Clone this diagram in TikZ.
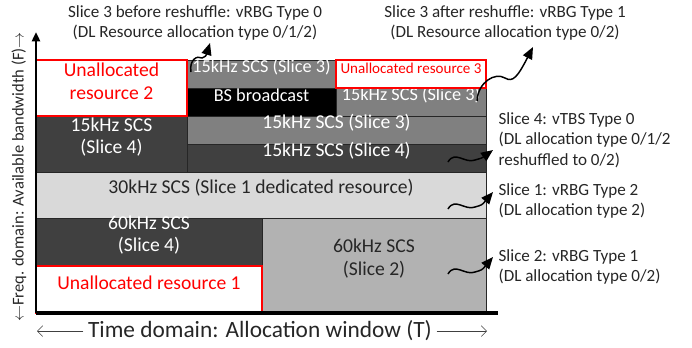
\documentclass[tikz,border=0pt]{standalone}
\usepackage{fontspec}
\setmainfont{Carlito}
\usetikzlibrary{arrows.meta,fit}

\begin{document}
\begin{tikzpicture}[%
  x=0.75pt, y=-0.75pt, % one unit per pixel, y pointing down
  every node/.style={align=center, font=\fontsize{14.7}{17}\selectfont},
  cell/.style={draw=black!85, thin, inner sep=0pt}, % Resource block
  slicefour/.style={cell, fill=black!75, text=white},
  slicethree/.style={cell, fill=black!50, text=white},
  sliceone/.style={cell, fill=black!15, text=black!85},
  slicetwo/.style={cell, fill=black!30, text=black!85},
  bcast/.style={cell, fill=black, text=white},
  unalloc/.style={cell, draw=red, line width=1.2pt, fill=white, text=red},
  toprow/.style={font=\fontsize{13.7}{16}\selectfont}, % Narrow blocks at the top
  note/.style={text=black!85, inner sep=1pt, font=\fontsize{12.8}{15.3}\selectfont},
  wave/.style={line width=1.1pt, -{Triangle[length=9pt, width=7.5pt]}} % Curly pointer
]
\useasboundingbox (0,0) rectangle (692,347);

% Allocated blocks
\node[slicethree, toprow, fit={(187,60) (336,88)}] (s3old) {15kHz SCS (Slice 3)};
\node[bcast, toprow, fit={(187,88) (336,116)}] (bs) {BS broadcast};
\node[slicethree, toprow, fit={(336,88) (486,116)}] (s3new) {15kHz SCS (Slice 3)};
\node[slicefour, fit={(36,116) (187,172)}] (s4a) {15kHz SCS\\(Slice 4)};
\node[slicethree, fit={(187,116) (486,144)}] (s3b) {15kHz SCS (Slice 3)};
\node[slicefour, fit={(187,144) (486,172)}] (s4b) {15kHz SCS (Slice 4)};
\node[sliceone, fit={(36,172) (486,218)}] (s1) {30kHz SCS (Slice 1 dedicated resource)};
\node[slicefour, fit={(36,218) (262,266)}] (s4c) {60kHz SCS\\(Slice 4)};
\node[slicetwo, fit={(262,218) (486,313)}] (s2) {60kHz SCS\\(Slice 2)};

% Unallocated blocks on top
\node[unalloc, fit={(36,60) (187,116)}] (free2) {Unallocated\\resource 2};
\node[unalloc, fit={(336,60) (486,88)}, font=\fontsize{11.3}{13}\selectfont] (free3) {Unallocated resource 3};
\node[unalloc, fit={(36,266) (262,313)}] (free1) {Unallocated resource 1};

% Axes
\coordinate (origin) at (36,313);
\coordinate (ftip) at (36,32);
\coordinate (tend) at (498,313);
\draw[line width=2.5pt] (origin) -- (tend);
\draw[line width=2pt, -{Triangle[length=7pt, width=6pt]}] (origin) -- (ftip);

% Axis labels
\node[text=black!85, font=\fontsize{17.5}{19}\selectfont] (tlabel) at (260,331) {Time domain: Allocation window (T)};
\coordinate (tleft) at (37,331);
\coordinate (tright) at (487,331);
\draw[black!75, -{Straight Barb[length=4pt, width=8pt]}] (tlabel.west) -- (tleft);
\draw[black!75, -{Straight Barb[length=4pt, width=8pt]}] (tlabel.east) -- (tright);
\node[rotate=90, text=black!85, inner sep=0pt, font=\fontsize{12.4}{14}\selectfont] (flabel) at (19,177) {$\leftarrow$Freq. domain: Available bandwidth (F)$\rightarrow$};

% Slice notes
\node[note] (before) at (195,23) {Slice 3 before reshuffle: vRBG Type 0\\(DL Resource allocation type 0/1/2)};
\node[note] (after) at (505,23) {Slice 3 after reshuffle: vRBG Type 1\\(DL Resource allocation type 0/2)};
\node[note, anchor=west, align=left] (s4note) at (497,140) {Slice 4: vTBS Type 0\\(DL allocation type 0/1/2\\reshuffled to 0/2)};
\node[note, anchor=west, align=left] (s1note) at (497,201) {Slice 1: vRBG Type 2\\(DL allocation type 2)};
\node[note, anchor=west, align=left] (s2note) at (497,267) {Slice 2: vRBG Type 1\\(DL allocation type 0/2)};

% Curly pointers from blocks to notes
\coordinate (p3old) at (191,72);
\coordinate (q3old) at (210,43);
\coordinate (p3new) at (477,101);
\coordinate (q3new) at (533,47);
\draw[wave] (p3old) .. controls (189,60) and (197,55) .. (202,58) .. controls (206,56) .. (q3old);
\draw[wave] (p3new) .. controls (478,82) and (495,72) .. (505,78) .. controls (513,83) and (518,76) .. (q3new);
\foreach \ya/\yb [count=\i] in {162/150, 209/192, 274/257} {
  \coordinate (p\i) at (448,\ya);
  \coordinate (q\i) at (493,\yb);
  \draw[wave] (p\i) .. controls (455,\ya-12) and (465,\ya+2) .. (475,\ya-2) .. controls (482,\ya-4) .. (q\i);
}
\end{tikzpicture}
\end{document}
